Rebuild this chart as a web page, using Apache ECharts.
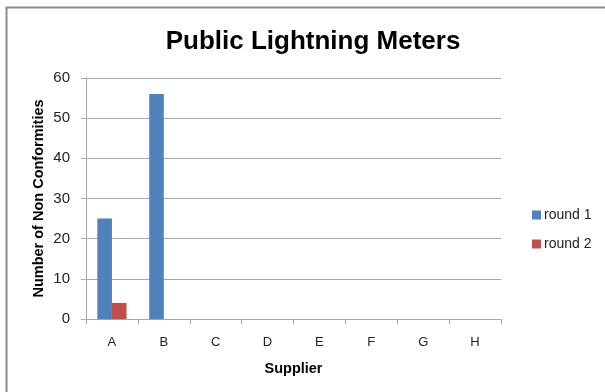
<!DOCTYPE html>
<html>
<head>
<meta charset="utf-8">
<script src="https://cdn.jsdelivr.net/npm/echarts@6/dist/echarts.min.js"></script>
<style>
html,body{margin:0;padding:0;background:#fff;}
#chart{width:605px;height:392px;}
</style>
</head>
<body>
<div id="chart"></div>
<script>
// Suppliers and non-conformity counts per audit round
const suppliers = ['A', 'B', 'C', 'D', 'E', 'F', 'G', 'H'];
const round1 = [25, 56, 0, 0, 0, 0, 0, 0];
const round2 = [4, 0, 0, 0, 0, 0, 0, 0];
const yTicks = [0, 10, 20, 30, 40, 50, 60];

const font = '"Liberation Sans", Arial, sans-serif';
const chart = echarts.init(document.getElementById('chart'));
chart.setOption({
  animation: false,
  backgroundColor: '#fff',
  graphic: [{
    type: 'rect',
    shape: { x: 6.5, y: 7.5, width: 620, height: 400 },
    style: { fill: 'none', stroke: '#8c8c8c', lineWidth: 2 }
  }],
  title: {
    text: 'Public Lightning Meters',
    left: 308, top: 24, textAlign: 'center',
    textStyle: { fontFamily: font, fontSize: 26, fontWeight: 'bold', color: '#000' }
  },
  legend: {
    orient: 'vertical',
    left: 527, top: 203,
    itemWidth: 9, itemHeight: 9, itemGap: 15,
    icon: 'rect',
    textStyle: { fontFamily: font, fontSize: 14, color: '#222', padding: [0, 0, 0, -2] },
    data: ['round 1', 'round 2']
  },
  grid: { left: 86, right: 104, top: 78, bottom: 73, containLabel: false },
  xAxis: {
    type: 'category',
    data: suppliers,
    name: 'Supplier',
    nameLocation: 'middle',
    nameGap: 42,
    nameMoveOverlap: false,
    nameTextStyle: { fontFamily: font, fontSize: 14.5, fontWeight: 'bold', color: '#000' },
    axisLine: { lineStyle: { color: '#a6a6a6' } },
    axisTick: { show: true, length: 5, alignWithLabel: false, lineStyle: { color: '#a6a6a6' } },
    axisLabel: { fontFamily: font, fontSize: 13, color: '#222', margin: 17 }
  },
  yAxis: {
    type: 'value',
    min: yTicks[0], max: yTicks[yTicks.length - 1], interval: 10,
    name: 'Number of Non Conformities',
    nameLocation: 'middle',
    nameGap: 40,
    nameMoveOverlap: false,
    nameTextStyle: { fontFamily: font, fontSize: 14.5, fontWeight: 'bold', color: '#000' },
    axisLine: { show: true, lineStyle: { color: '#a6a6a6' } },
    axisTick: { show: true, length: 5, lineStyle: { color: '#a6a6a6' } },
    axisLabel: { fontFamily: font, fontSize: 15, color: '#222', margin: 16 },
    splitLine: { lineStyle: { color: '#a6a6a6' } }
  },
  series: [
    { name: 'round 1', type: 'bar', data: round1, barWidth: 14.6, barGap: '0%', barCategoryGap: '43%',
      itemStyle: { color: '#4F81BD' } },
    { name: 'round 2', type: 'bar', data: round2, barWidth: 14.6, barGap: '0%',
      itemStyle: { color: '#C0504D' } }
  ]
});
</script>
</body>
</html>
